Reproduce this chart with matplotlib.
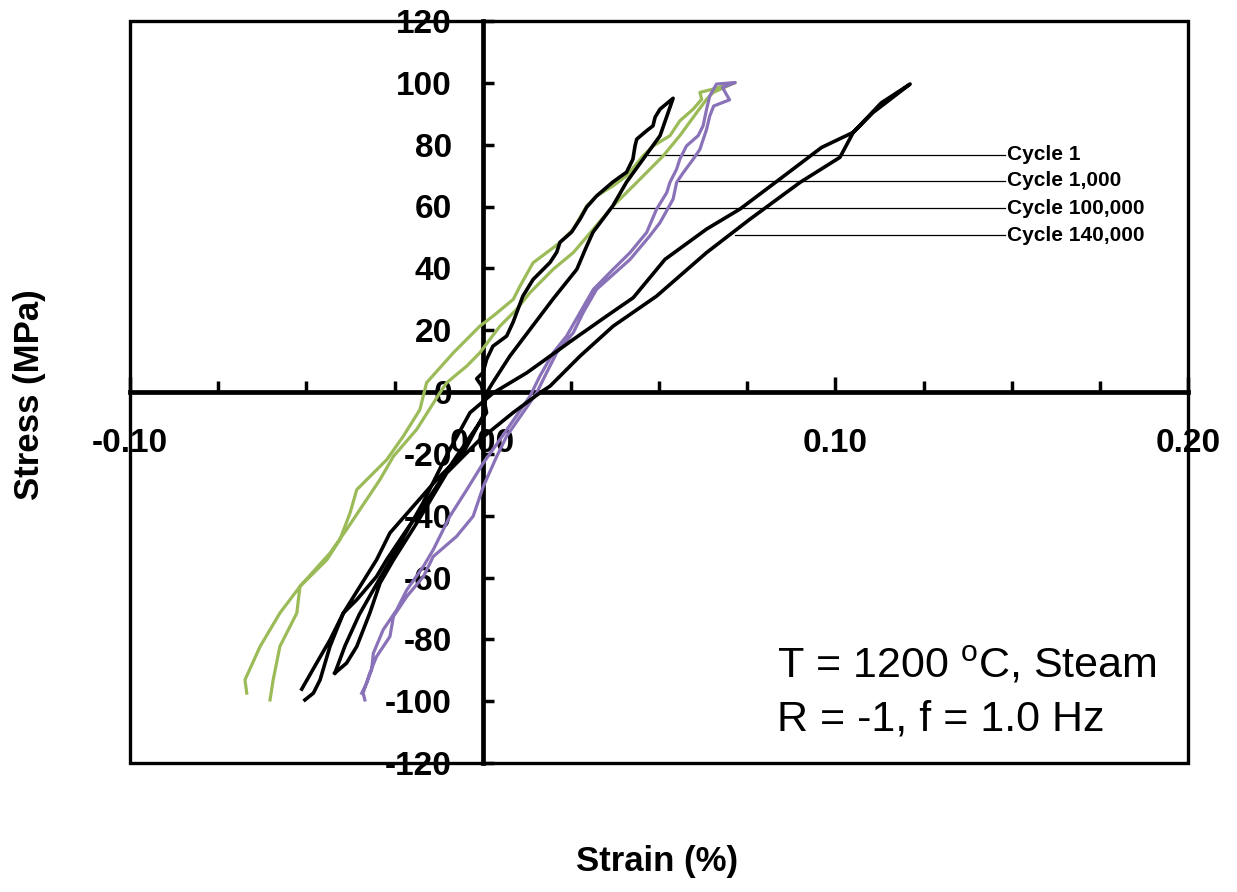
import matplotlib

matplotlib.use("Agg")
import matplotlib.pyplot as plt
from matplotlib.patches import Rectangle
from matplotlib.ticker import MultipleLocator

plt.rcParams["font.family"] = ["Liberation Sans", "DejaVu Sans"]

# Cycle 1 (black): loading branch (bottom -> top) then unloading branch (top -> bottom)
c1_strain = [-0.0504, -0.0480, -0.0461, -0.0433, -0.0395, -0.0348, -0.0301, -0.0263, -0.0197,
             -0.0130, -0.0055, 0.0000, 0.0011, 0.0029, 0.0077, 0.0134, 0.0199, 0.0267, 0.0295,
             0.0313, 0.0369, 0.0408, 0.0465, 0.0503, 0.0540,
             0.0503, 0.0489, 0.0483, 0.0465, 0.0437, 0.0432, 0.0426, 0.0408, 0.0369, 0.0323,
             0.0295, 0.0276, 0.0252, 0.0219, 0.0210, 0.0191, 0.0143, 0.0114, 0.0086, 0.0068,
             0.0029, 0.0011, 0.0001, -0.0017, -0.0003, 0.0011, -0.0074, -0.0149, -0.0215,
             -0.0272, -0.0301, -0.0357, -0.0395, -0.0433, -0.0471, -0.0513]
c1_stress = [-99.6, -97.4, -93.1, -82.3, -71.5, -62.9, -54.3, -45.6, -37.0,
             -28.3, -19.7, -8.0, -0.3, 3.1, 11.6, 20.2, 30.0, 39.7, 47.2,
             51.7, 60.2, 67.9, 76.9, 82.9, 95.0,
             91.5, 88.9, 86.1, 84.5, 81.8, 79.6, 75.3, 71.1, 67.9, 63.4,
             59.8, 55.9, 51.7, 48.4, 45.2, 41.9, 36.4, 31.0, 22.5, 18.1,
             14.8, 10.5, 6.3, 4.3, 2.0, -6.7, -20.8, -33.7, -44.5,
             -54.2, -59.7, -67.2, -71.5, -80.2, -87.7, -96.1]

# Cycle 1,000 (purple)
c1k_strain = [-0.0343, -0.0329, -0.0315, -0.0310, -0.0282, -0.0244, -0.0215, -0.0168, -0.0140,
              -0.0093, -0.0045, 0.0002, 0.0049, 0.0134, 0.0162, 0.0200, 0.0238, 0.0276, 0.0314,
              0.0370, 0.0418, 0.0465, 0.0493, 0.0522, 0.0531, 0.0550, 0.0559, 0.0578, 0.0611,
              0.0625, 0.0635, 0.0644, 0.0663, 0.0716,
              0.0680, 0.0700, 0.0655, 0.0644, 0.0635, 0.0616, 0.0597, 0.0569, 0.0550, 0.0540,
              0.0503, 0.0474, 0.0418, 0.0323, 0.0285, 0.0257, 0.0210, 0.0181, 0.0153, 0.0068,
              0.0040, 0.0002, -0.0027, -0.0074, -0.0140, -0.0168, -0.0215, -0.0253, -0.0263,
              -0.0301, -0.0320, -0.0339, -0.0334]
c1k_stress = [-97.4, -94.2, -89.9, -84.5, -76.9, -70.5, -64.0, -56.4, -51.0,
              -40.2, -31.6, -22.9, -15.4, -1.4, 5.1, 12.7, 18.1, 25.7, 33.2,
              39.7, 45.1, 51.6, 59.1, 64.5, 67.8, 72.1, 75.3, 79.6, 82.9,
              86.1, 91.5, 95.8, 99.6, 100.1,
              98.5, 94.5, 92.5, 89.3, 85.0, 78.5, 75.3, 71.0, 67.8, 62.4,
              54.8, 50.5, 42.9, 33.2, 25.7, 19.2, 12.7, 6.2, -0.3, -14.3,
              -20.8, -30.5, -40.2, -46.7, -53.2, -59.7, -66.1, -72.6, -79.1,
              -85.6, -90.9, -97.4, -99.6]

# Cycle 100,000 (green)
c100k_strain = [-0.0669, -0.0674, -0.0631, -0.0575, -0.0518, -0.0433, -0.0386, -0.0291, -0.0253,
                -0.0187, -0.0121, -0.0102, -0.0045, -0.0008, 0.0049, 0.0096, 0.0134, 0.0200,
                0.0257, 0.0314, 0.0370, 0.0437, 0.0512, 0.0559, 0.0607, 0.0635, 0.0654, 0.0716,
                0.0654, 0.0616, 0.0621, 0.0597, 0.0559, 0.0531, 0.0484, 0.0455, 0.0408, 0.0370,
                0.0323, 0.0295, 0.0257, 0.0219, 0.0143, 0.0106, 0.0087, 0.0030, -0.0008,
                -0.0083, -0.0159, -0.0178, -0.0225, -0.0272, -0.0357, -0.0376, -0.0405, -0.0442,
                -0.0518, -0.0527, -0.0575, -0.0594, -0.0603]
c100k_stress = [-97.4, -93.1, -82.3, -71.5, -62.9, -52.1, -44.5, -28.3, -20.8,
                -12.1, -0.2, 3.0, 8.4, 12.7, 21.3, 26.7, 32.1, 39.7,
                45.1, 52.7, 60.2, 67.8, 76.4, 82.9, 90.4, 94.7, 96.9, 100.1,
                98.0, 96.9, 94.7, 91.5, 87.7, 82.9, 79.6, 76.4, 69.9, 66.7,
                63.4, 60.2, 52.7, 48.3, 41.8, 34.3, 30.0, 24.6, 21.3,
                12.7, 3.0, -5.7, -14.3, -21.9, -31.6, -39.1, -47.8, -54.3,
                -62.9, -71.5, -82.3, -93.1, -99.6]

# Cycle 140,000 (black)
c140k_strain = [-0.0419, -0.0386, -0.0357, -0.0320, -0.0291, -0.0253, -0.0187, -0.0102, -0.0008,
                0.0086, 0.0162, 0.0191, 0.0276, 0.0370, 0.0493, 0.0635, 0.0758, 0.0900, 0.1013,
                0.1051, 0.1107, 0.1212,
                0.1130, 0.1051, 0.0961, 0.0843, 0.0730, 0.0635, 0.0517, 0.0427, 0.0352, 0.0257,
                0.0191, 0.0125, 0.0030, -0.0036, -0.0100, -0.0170, -0.0240, -0.0300, -0.0350,
                -0.0390, -0.0419]
c140k_stress = [-90.9, -87.7, -82.3, -71.5, -61.8, -54.3, -42.4, -26.2, -15.4,
                -6.7, -0.3, 1.9, 11.6, 21.3, 31.0, 45.1, 55.9, 67.8, 75.9,
                84.0, 90.4, 99.6,
                93.5, 84.0, 79.1, 68.9, 59.2, 52.7, 42.9, 30.5, 24.6, 17.0,
                11.6, 6.2, -0.3, -6.7, -20.0, -36.0, -50.0, -62.0, -72.0,
                -82.0, -90.9]

labels = ["Cycle 1", "Cycle 1,000", "Cycle 100,000", "Cycle 140,000"]
label_from_strain = [0.0469, 0.0554, 0.0370, 0.0716]
label_stress = [76.7, 68.3, 59.4, 50.7]

fig = plt.figure(figsize=(12.37, 8.92), dpi=100)
ax = fig.add_axes([130 / 1237, 1 - 763 / 892, 1058 / 1237, 742 / 892])

ax.plot(c100k_strain, c100k_stress, color="#9BBB59", lw=2.3, zorder=3)
ax.plot(c1k_strain, c1k_stress, color="#8A72B8", lw=2.3, zorder=3)
ax.plot(c1_strain, c1_stress, color="black", lw=2.6, zorder=4)
ax.plot(c140k_strain, c140k_stress, color="black", lw=2.6, zorder=4)

ax.set_xlim(-0.10, 0.20)
ax.set_ylim(-120, 120)

# axes crossing at the origin, plus a frame round the plot area
for s in ("top", "right"):
    ax.spines[s].set_visible(False)
ax.spines["left"].set_position(("data", 0))
ax.spines["bottom"].set_position(("data", 0))
ax.spines["left"].set_linewidth(3.4)
ax.spines["bottom"].set_linewidth(3.4)
ax.add_patch(Rectangle((0, 0), 1, 1, transform=ax.transAxes, fill=False,
                       lw=2.4, ec="black", zorder=5, clip_on=False))

ax.xaxis.set_minor_locator(MultipleLocator(0.025))
ax.tick_params(axis="x", which="major", direction="in", length=11, width=2.5,
               labelsize=24, pad=26)
ax.tick_params(axis="x", which="minor", direction="in", length=8, width=2.5)
ax.tick_params(axis="y", which="major", direction="in", length=8, width=2.5,
               labelsize=24, pad=22)
ax.set_xticks([-0.1, 0.0, 0.1, 0.2])
ax.set_xticklabels(["-0.10", "0.00", "0.10", "0.20"], fontweight="bold")
ax.set_yticks(range(-120, 121, 20))
ax.set_yticklabels([str(v) for v in range(-120, 121, 20)], fontweight="bold")

# cycle labels with leader lines
for lab, x0, y0 in zip(labels, label_from_strain, label_stress):
    ax.plot([x0, 0.1481], [y0, y0], color="black", lw=0.9, zorder=2)
    ax.text(0.1487, y0, lab, fontsize=15, fontweight="bold", va="center", ha="left")

ax.text(0.0835, -88.5, r"T = 1200 $\mathregular{^{o}}$C, Steam", fontsize=31, va="center")
ax.text(0.0835, -106.0, "R = -1, f = 1.0 Hz", fontsize=31, va="center")

fig.text(657 / 1237, 1 - 862 / 892, "Strain (%)", fontsize=25, fontweight="bold",
         ha="center", va="center")
fig.text(30 / 1237, 1 - 395 / 892, "Stress (MPa)", fontsize=25, fontweight="bold",
         ha="center", va="center", rotation=90)

fig.savefig("out.png", dpi=100)
